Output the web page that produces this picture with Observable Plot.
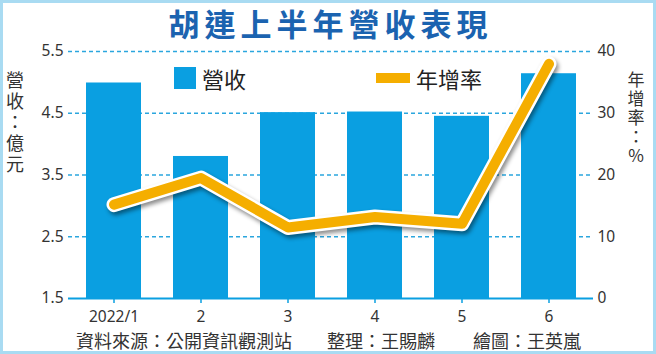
<!DOCTYPE html>
<html>
<head>
<meta charset="utf-8">
<script src="https://cdn.jsdelivr.net/npm/d3@7"></script>
<script src="https://cdn.jsdelivr.net/npm/@observablehq/plot@0.6"></script>
<style>
  html, body { margin: 0; padding: 0; background: #ffffff; }
  #wrap { position: relative; width: 656px; height: 354px; overflow: hidden; background: #fff;
          font-family: "Noto Sans CJK TC", "Noto Sans", sans-serif; }
  #wrap svg { position: absolute; left: 0; top: 0; }
  .abs { position: absolute; white-space: nowrap; }
  #border { position: absolute; left: 0; top: 0; width: 656px; height: 354px; box-sizing: border-box;
            border: 3px solid #a9dbf2; pointer-events: none; }
  .vlabel { position: absolute; text-align: center; color: #333; }
  .vlabel span { display: block; }
</style>
</head>
<body>
<div id="wrap"></div>
<script>
// ---- data ----
const months = ["2022/1", "2", "3", "4", "5", "6"];
const revenue = [4.99, 3.80, 4.51, 4.52, 4.45, 5.14];   // 營收（億元）
const yoy = [15.2, 19.5, 11.5, 13.2, 12.1, 38.0];        // 年增率（%）
const revenueTicks = [1.5, 2.5, 3.5, 4.5, 5.5];
const yoyTicks = [0, 10, 20, 30, 40];
const titleText = "胡連上半年營收表現";
const leftLabel = "營收：億元";
const rightLabel = "年增率：%";
const legendBar = "營收";
const legendLine = "年增率";
const sourceParts = ["資料來源：公開資訊觀測站", "整理：王賜麟", "繪圖：王英嵐"];

// map yoy onto revenue scale (dual axis)
const yoyToRev = v => revenueTicks[0] + (v - yoyTicks[0]) * (revenueTicks[revenueTicks.length - 1] - revenueTicks[0]) / (yoyTicks[yoyTicks.length - 1] - yoyTicks[0]);
const revToYoy = r => Math.round(yoyTicks[0] + (r - revenueTicks[0]) * (yoyTicks[yoyTicks.length - 1] - yoyTicks[0]) / (revenueTicks[revenueTicks.length - 1] - revenueTicks[0]));

const data = months.map((m, i) => ({month: m, revenue: revenue[i], yoy: yoy[i], yoyScaled: yoyToRev(yoy[i])}));

const BLUE = "#0a9fe1";
const ORANGE = "#f5ae00";
const GRID = "#2ba6de";

const chart = Plot.plot({
  width: 656,
  height: 354,
  marginLeft: 68,
  marginRight: 63,
  marginTop: 51,
  marginBottom: 56,
  style: {fontFamily: "'Noto Sans', sans-serif", fontSize: "15px", color: "#333", background: "transparent", overflow: "visible"},
  x: {domain: months, paddingInner: 0.37, paddingOuter: 0.19, label: null},
  y: {domain: [revenueTicks[0], revenueTicks[revenueTicks.length - 1]], label: null},
  marks: [
    Plot.ruleY(revenueTicks.slice(1), {stroke: GRID, strokeWidth: 1.4, strokeDasharray: "4,3"}),
    Plot.barY(data, {x: "month", y1: revenueTicks[0], y2: "revenue", fill: BLUE}),
    Plot.ruleY([revenueTicks[0]], {stroke: BLUE, strokeWidth: 2}),
    Plot.axisX({tickSize: 5, tickPadding: 7, stroke: BLUE, strokeWidth: 1.5, fill: "#333", fontSize: 15.5}),
    Plot.axisY({anchor: "left", ticks: revenueTicks, tickSize: 0, tickPadding: 5, tickFormat: d => d.toFixed(1), fill: "#333", fontSize: 15.5}),
    Plot.axisY({anchor: "right", ticks: revenueTicks, tickSize: 0, tickPadding: 4, tickFormat: d => String(revToYoy(d)), fill: "#333", fontSize: 15.5}),
    Plot.line(data, {x: "month", y: "yoyScaled", stroke: "#ffffff", strokeWidth: 15, strokeLinejoin: "round", strokeLinecap: "round"}),
    Plot.line(data, {x: "month", y: "yoyScaled", stroke: ORANGE, strokeWidth: 10, strokeLinejoin: "round", strokeLinecap: "round"})
  ]
});

const wrap = document.getElementById("wrap");
wrap.appendChild(chart);
const lines = chart.querySelectorAll('g[aria-label="line"]');
if (lines.length) lines[0].style.filter = "drop-shadow(2px 3px 2px rgba(0,0,0,0.45))";

function addDiv(text, css, cls) {
  const d = document.createElement("div");
  d.className = cls || "abs";
  d.textContent = text;
  Object.assign(d.style, css);
  wrap.appendChild(d);
  return d;
}
function addVertical(text, css) {
  const d = document.createElement("div");
  d.className = "vlabel";
  for (const ch of Array.from(text)) {
    const s = document.createElement("span");
    s.textContent = ch;
    d.appendChild(s);
  }
  Object.assign(d.style, css);
  wrap.appendChild(d);
}

// title
addDiv(titleText, {left: "0px", width: "656px", textAlign: "center", top: "2px", fontSize: "31px", lineHeight: "42px",
  fontWeight: "bold", letterSpacing: "5px", textIndent: "5px", color: "#1b63b0", fontFamily: "'Noto Sans CJK TC', sans-serif"});

// legend
const sq = document.createElement("div");
Object.assign(sq.style, {position: "absolute", left: "174px", top: "67px", width: "22px", height: "22px", background: BLUE});
wrap.appendChild(sq);
addDiv(legendBar, {left: "202px", top: "64px", fontSize: "22px", lineHeight: "28px", color: "#222"});
const ln = document.createElement("div");
Object.assign(ln.style, {position: "absolute", left: "376px", top: "73px", width: "34px", height: "10px", background: ORANGE});
wrap.appendChild(ln);
addDiv(legendLine, {left: "416px", top: "64px", fontSize: "22px", lineHeight: "28px", color: "#222"});

// vertical axis labels
addVertical(leftLabel, {left: "4px", top: "69px", width: "22px", fontSize: "18px", lineHeight: "21px"});
addVertical(rightLabel, {left: "626px", top: "69px", width: "20px", fontSize: "17px", lineHeight: "19px"});

// source line
const srcLeft = [76, 327, 473];
sourceParts.forEach((t, i) => addDiv(t, {left: srcLeft[i] + "px", top: "329px", fontSize: "18px", lineHeight: "22px", color: "#333"}));

const b = document.createElement("div");
b.id = "border";
wrap.appendChild(b);
</script>
</body>
</html>
